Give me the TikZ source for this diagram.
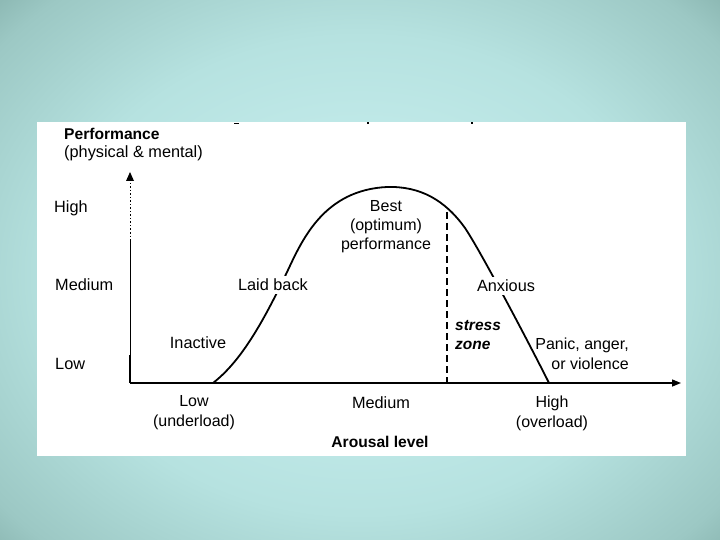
\documentclass[tikz,border=0pt]{standalone}
\usepackage{fontspec}
\setmainfont{Liberation Sans}
\usetikzlibrary{arrows.meta}
\definecolor{bgc}{RGB}{199,238,238}
\definecolor{bgm}{RGB}{182,226,224}
\definecolor{bge}{RGB}{156,200,196}
\definecolor{bgo}{RGB}{138,182,177}
\definecolor{bgk}{RGB}{122,162,154}
\pgfdeclareradialshading{bgshade}{\pgfpoint{0bp}{0bp}}{color(0bp)=(bgc); color(6bp)=(bgc); color(21bp)=(bgm); color(32bp)=(bge); color(35.4bp)=(bgo); color(50bp)=(bgk)}
\tikzset{
  lbl/.style={font=\fontsize{16.3}{19}\selectfont, inner sep=1pt},
  lblw/.style={lbl, fill=white, inner sep=3pt},
  bold/.style={font=\fontsize{15.6}{18}\selectfont\bfseries, inner sep=1pt},
  axis/.style={line width=1.4pt, -{Triangle[length=9pt,width=7pt]}},
  curve/.style={line width=1.8pt, line join=round},
  zone/.style={line width=2.4pt, dash pattern=on 7pt off 4pt}
}
\begin{document}
\begin{tikzpicture}[x=1pt,y=-1pt]
\useasboundingbox (0,0) rectangle (720,540);
\shade[shading=bgshade] (0,-10) rectangle (720,560);
\fill[white] (37,122) rectangle (686,456);
% tiny marks at top edge
\draw[line width=1.5pt] (234,123.5) -- (239,123.5);
\draw[line width=1.2pt] (367,123) -- (369,123);
\draw[line width=1.5pt] (471,123) -- (473,123);
% axes
\coordinate (O) at (130,383);
\coordinate (Ytop) at (130,172);
\coordinate (Ymid) at (130,240);
\coordinate (Xend) at (681,383);
\draw[line width=0.8pt, dash pattern=on 1.5pt off 2pt] (130,183) -- (Ymid);
\draw[line width=0.8pt] (Ymid) -- (O);
\draw[line width=1.6pt] (130,355) -- (O);
\fill (Ytop) -- ++(-4,9) -- ++(8,0) -- cycle;
\draw[axis] (O) -- (Xend);
% curve
\draw[curve] (213,383) .. controls (240,362) and (262,325) .. (288,270)
  .. controls (303,238) and (325,190) .. (387,187)
  .. controls (420,186) and (445,200) .. (465,228)
  .. controls (480,250) and (530,345) .. (549,383);
% stress zone line
\coordinate (Zt) at (447,212);
\coordinate (Zb) at (447,383);
\draw[zone] (Zt) -- (Zb);
% labels
\node[bold, anchor=west] (perf) at (63,134) {Performance};
\node[lbl, anchor=west] (pm) at (63,153) {(physical \& mental)};
\node[lbl, anchor=west] (yh) at (53,208) {High};
\node[lbl, anchor=west] (ym) at (54,285) {Medium};
\node[lbl, anchor=west] (yl) at (54,364) {Low};
\node[lblw] (laid) at (273,285) {Laid back};
\node[lbl] (inact) at (198,343) {Inactive};
\node[lbl, align=center, font=\fontsize{16}{19}\selectfont] (best) at (386,227) {Best\\(optimum)\\performance};
\node[lblw] (anx) at (506,286) {Anxious};
\node[lbl, anchor=west, align=left, font=\fontsize{15.5}{19}\selectfont\bfseries\itshape] (stress) at (454,335) {stress\\zone};
\node[lbl, anchor=east, align=right, font=\fontsize{16}{20}\selectfont] (panic) at (630,354) {Panic, anger,\\or violence};
\node[lbl, align=center, font=\fontsize{16}{20}\selectfont] (xl) at (194,413) {Low\\(underload)};
\node[lbl] (xm) at (381,403) {Medium};
\node[lbl, align=center, font=\fontsize{16}{20}\selectfont] (xh) at (552,413) {High\\(overload)};
\node[bold] (arousal) at (380,442) {Arousal level};
\end{tikzpicture}
\end{document}
